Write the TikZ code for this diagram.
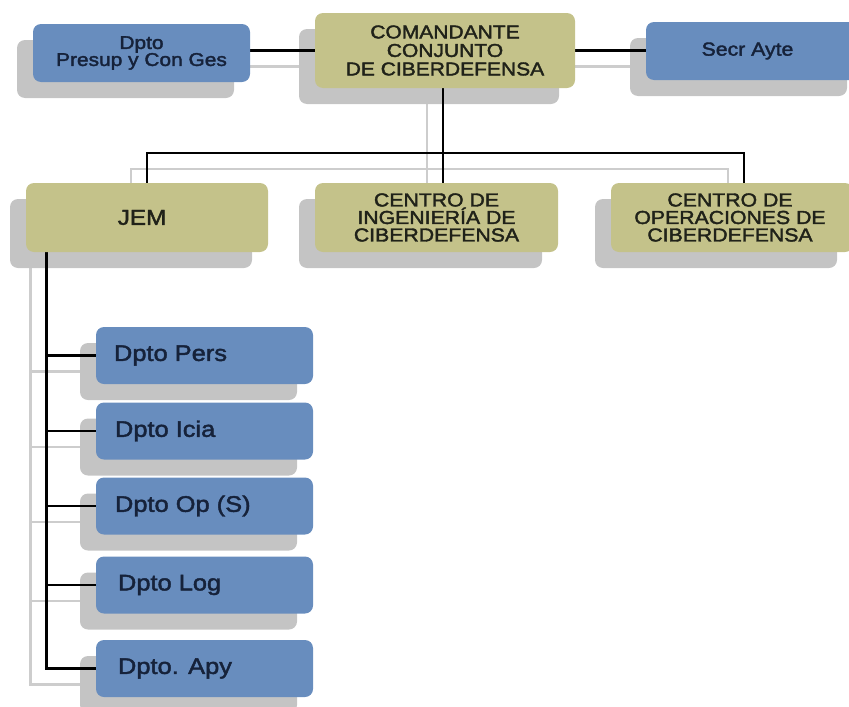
\documentclass[tikz,border=0pt]{standalone}
\usepackage{fontspec}
\setmainfont{Liberation Sans}[FakeStretch=1.13,FakeBold=2]
\usetikzlibrary{positioning}
\pgfdeclarelayer{lA}\pgfdeclarelayer{lB}\pgfdeclarelayer{lC}
\pgfsetlayers{lA,lB,lC,main}
\definecolor{boxblue}{HTML}{688DBE}
\definecolor{boxolive}{HTML}{C4C28A}
\definecolor{shadowgray}{HTML}{C4C4C4}
\definecolor{linegray}{HTML}{CDCDCD}
\definecolor{txtblue}{HTML}{16223A}
\definecolor{txtolive}{HTML}{202219}
\tikzset{
  x=1pt,y=-1pt,
  basebox/.style={rounded corners=8pt,inner sep=0pt,align=center},
  bluebox/.style={basebox,fill=boxblue,text=txtblue},
  olivebox/.style={basebox,fill=boxolive,text=txtolive},
  shadowbox/.style={basebox,fill=shadowgray},
  conn/.style={line width=2.8pt,black},
  sconn/.style={line width=2.8pt,linegray},
  dtext/.style={font=\fontsize{22.5}{24}\selectfont,anchor=west,text=txtblue,inner sep=0pt}
}
% \bx{name}{cx}{cy}{w}{h}{style}{fontsize}{text}
\newcommand{\bx}[8]{%
  \begin{pgfonlayer}{lB}
  \node[shadowbox,minimum width=#4pt,minimum height=#5pt] (#1-s) at (#2-16,#3+16) {};
  \end{pgfonlayer}
  \node[#6,minimum width=#4pt,minimum height=#5pt,font=#7] (#1) at (#2,#3) {#8};
}
\begin{document}
\begin{tikzpicture}
\useasboundingbox (0,0) rectangle (849,707);
\clip (0,0) rectangle (849,707);
\def\fa{\fontsize{18.5}{17}\selectfont}
\def\fb{\fontsize{18.6}{18.5}\selectfont}
\def\fc{\fontsize{18.8}{17.5}\selectfont}
\def\fd{\fontsize{18.8}{18}\selectfont}
\def\fj{\fontsize{21.5}{22}\selectfont}
\bx{pres}{141.5}{53}{217}{58}{bluebox}{\fa}{Dpto\\Presup y Con Ges}
\bx{com}{445}{50.5}{260}{75}{olivebox}{\fb}{COMANDANTE\\CONJUNTO\\DE CIBERDEFENSA}
\bx{secr}{754.5}{51}{217}{58}{bluebox}{\fd}{\hspace*{-14pt}Secr Ayte}
\bx{jem}{147}{217.5}{242}{69}{olivebox}{\fj}{\hspace*{-10pt}JEM}
\bx{ing}{436.5}{217.5}{243}{69}{olivebox}{\fc}{CENTRO DE\\INGENIERÍA DE\\CIBERDEFENSA}
\bx{ope}{732}{217.5}{242}{69}{olivebox}{\fc}{\hspace*{-4pt}CENTRO DE\\\hspace*{-4pt}OPERACIONES DE\\\hspace*{-4pt}CIBERDEFENSA}
\bx{pers}{204.5}{355.5}{217}{57}{bluebox}{\fb}{}
\bx{icia}{204.5}{431}{217}{57}{bluebox}{\fb}{}
\bx{opp}{204.5}{506}{217}{57}{bluebox}{\fb}{}
\bx{log}{204.5}{585}{217}{57}{bluebox}{\fb}{}
\bx{apy}{204.5}{668.5}{217}{57}{bluebox}{\fb}{}
\node[dtext] (tpers) at ([xshift=18pt]pers.west) {Dpto Pers};
\node[dtext] (ticia) at ([xshift=19pt]icia.west) {Dpto Icia};
\node[dtext] (topp) at ([xshift=19pt]opp.west) {Dpto Op (S)};
\node[dtext] (tlog) at ([xshift=22pt]log.west) {Dpto Log};
\node[dtext] (tapy) at ([xshift=22pt]apy.west) {Dpto. Apy};
\coordinate (bus) at (443,153);
\coordinate (bus-s) at (427,169);
\coordinate (spine) at ([xshift=21pt]jem.south west);
\coordinate (spine-s) at ([xshift=21pt]jem-s.south west);
% shadow connectors
\begin{pgfonlayer}{lA}
\draw[sconn] (com-s.west) -- (com-s.west -| pres-s.east);
\draw[sconn] (com-s.east) -- (com-s.east -| secr-s.west);
\draw[sconn] (com-s.south -| bus-s) -- (ing-s.north -| bus-s);
\draw[sconn] (jem-s.north) |- (bus-s) -| ([xshift=12pt]ope-s.north);
\draw[sconn] (spine-s) |- (apy-s.west);
\foreach \d in {pers,icia,opp,log} \draw[sconn] (\d-s.west) -- (\d-s.west -| spine-s);
\end{pgfonlayer}
% main connectors
\begin{pgfonlayer}{lC}
\draw[conn] (com.west) -- (com.west -| pres.east);
\draw[conn] (com.east) -- (com.east -| secr.west);
\draw[conn] (com.south -| bus) -- (ing.north -| bus);
\draw[conn] (jem.north) |- (bus) -| ([xshift=12pt]ope.north);
\draw[conn] (spine) |- (apy.west);
\foreach \d in {pers,icia,opp,log} \draw[conn] (\d.west) -- (\d.west -| spine);
\end{pgfonlayer}
\end{tikzpicture}
\end{document}
